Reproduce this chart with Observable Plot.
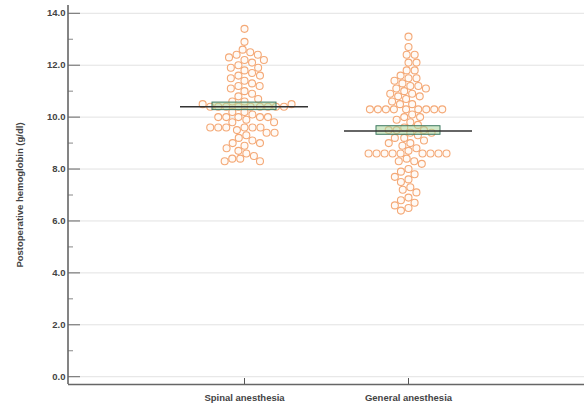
<!DOCTYPE html>
<html>
<head>
<meta charset="utf-8">
<script src="https://cdn.jsdelivr.net/npm/d3@7"></script>
<script src="https://cdn.jsdelivr.net/npm/@observablehq/plot@0.6"></script>
<style>
  html, body { margin: 0; padding: 0; background: #fff; }
</style>
</head>
<body>
<div id="chart"></div>
<script>
const groups = ["Spinal anesthesia", "General anesthesia"];

const spinal = [
  13.4,
  12.9,
  12.6, 12.5, 12.4, 12.4, 12.3, 12.2, 12.2,
  12.1, 12.0, 11.9, 11.9, 11.8,
  11.7, 11.6, 11.6, 11.5, 11.4,
  11.3, 11.2, 11.2, 11.1,
  11.0, 10.9, 10.8, 10.7,
  10.6, 10.6,
  10.4, 10.4, 10.4, 10.4, 10.4, 10.4, 10.4, 10.4, 10.4, 10.5, 10.5,
  10.2, 10.2, 10.1,
  10.0, 10.0, 10.0, 10.0, 10.0,
  9.9, 9.8, 9.8,
  9.6, 9.6, 9.6, 9.6, 9.6, 9.6,
  9.5, 9.4, 9.4, 9.3,
  9.2, 9.1, 9.0, 9.0,
  8.9, 8.8, 8.7, 8.6,
  8.5, 8.4, 8.4, 8.3, 8.3
];

const general = [
  13.1,
  12.7,
  12.4, 12.4,
  12.1, 12.1,
  11.8, 11.8,
  11.6, 11.5, 11.5, 11.4,
  11.3, 11.2, 11.2, 11.1, 11.1,
  11.0, 10.9, 10.9, 10.8, 10.8, 10.7,
  10.6, 10.5, 10.5,
  10.3, 10.3, 10.3, 10.3, 10.3, 10.3, 10.3, 10.3, 10.3,
  10.1, 10.0, 10.0,
  9.9, 9.8, 9.7,
  9.6, 9.5, 9.5, 9.5, 9.4, 9.4, 9.3,
  9.2, 9.2, 9.1, 9.0, 9.0, 8.9,
  8.8, 8.7,
  8.6, 8.6, 8.6, 8.6, 8.6, 8.6, 8.6, 8.6, 8.6,
  8.4, 8.3, 8.3, 8.2,
  8.0, 7.9, 7.8,
  7.7, 7.6, 7.5,
  7.3, 7.2, 7.1,
  6.9, 6.8, 6.7,
  6.6, 6.5,
  6.4
];

const means = [10.40, 9.47];
const ciLow = [10.27, 9.32];
const ciHigh = [10.56, 9.65];

const yTicks = [0, 2, 4, 6, 8, 10, 12, 14];
const yMinor = [1, 3, 5, 7, 9, 11, 13];
const yDomain = [-0.3, 14.3];

const data = [
  ...spinal.map(v => ({group: groups[0], value: v})),
  ...general.map(v => ({group: groups[1], value: v}))
];
const stats = groups.map((g, i) => ({group: g, mean: means[i], lo: ciLow[i], hi: ciHigh[i]}));

const W = 584, H = 409, ML = 68, MR = 0, MT = 5, MB = 25;
const base = {
  width: W, height: H, marginLeft: ML, marginRight: MR, marginTop: MT, marginBottom: MB,
  style: {fontFamily: "Liberation Sans, Arial, sans-serif", fontSize: "9px", color: "#444", background: "#fff"},
  fx: {domain: groups, paddingInner: 0.22, paddingOuter: 0.68, label: null},
  y: {domain: yDomain, label: null}
};

// probe pass: read the fx band scale so axis lines & grid can span the full frame
const probe = Plot.plot({...base, marks: [Plot.ruleY(stats, {fx: "group", y: "mean"})]});
const fxs = probe.scale("fx");
const L0 = fxs.apply(groups[0]);
const bw = fxs.bandwidth;
const padL = L0 - ML;                 // distance from the y axis to the first band
const padR = W - MR - L0 - bw;        // from first band's right edge to frame right
const gridData = yTicks.map(y => ({g: groups[0], y}));
const first = [{g: groups[0]}];

const chart = Plot.plot({
  ...base,
  marks: [
    Plot.ruleY(gridData, {fx: "g", y: "y", insetLeft: -padL, insetRight: -padR,
      stroke: "#e2e2e2", strokeWidth: 1}),
    Plot.dot(data, Plot.dodgeX("middle", {
      fx: "group", y: "value", r: 3.5, padding: 0.5,
      stroke: "#f4a977", strokeWidth: 1.1, fill: "#fffaf6"
    })),
    Plot.rect(stats, {fx: "group", y1: "lo", y2: "hi", insetLeft: 32, insetRight: 32,
      fill: "#a9d69b", fillOpacity: 0.55, stroke: "#3f7a62", strokeWidth: 1}),
    Plot.ruleY(stats, {fx: "group", y: "mean", stroke: "#333", strokeWidth: 1.5}),
    // y axis (shifted from the first band to the frame's left edge)
    Plot.axisY(yTicks, {anchor: "left", dx: -padL, tickSize: -12, tickPadding: 15, tickFormat: d => d.toFixed(1),
      fontWeight: "bold", fontSize: 9.5, stroke: "#666", label: "Postoperative hemoglobin (g/dl)", labelAnchor: "center",
      labelArrow: "none", labelOffset: padL + 52}),
    Plot.axisY(yMinor, {anchor: "left", dx: -padL, tickSize: -5, tickFormat: () => "", stroke: "#888", label: null}),
    Plot.axisFx({anchor: "bottom", tickSize: -6, tickPadding: 16, fontWeight: "bold", fontSize: 9.5, stroke: "#555", label: null}),
    // axis lines
    Plot.ruleY(first, {fx: "g", y: () => yDomain[0], insetLeft: -padL, insetRight: -padR, stroke: "#666", strokeWidth: 1.6}),
    Plot.rect(first, {fx: "g", insetLeft: -padL - 0.8, insetRight: bw + padL - 0.8, fill: "#666"})
  ]
});
document.getElementById("chart").appendChild(chart);
</script>
</body>
</html>
